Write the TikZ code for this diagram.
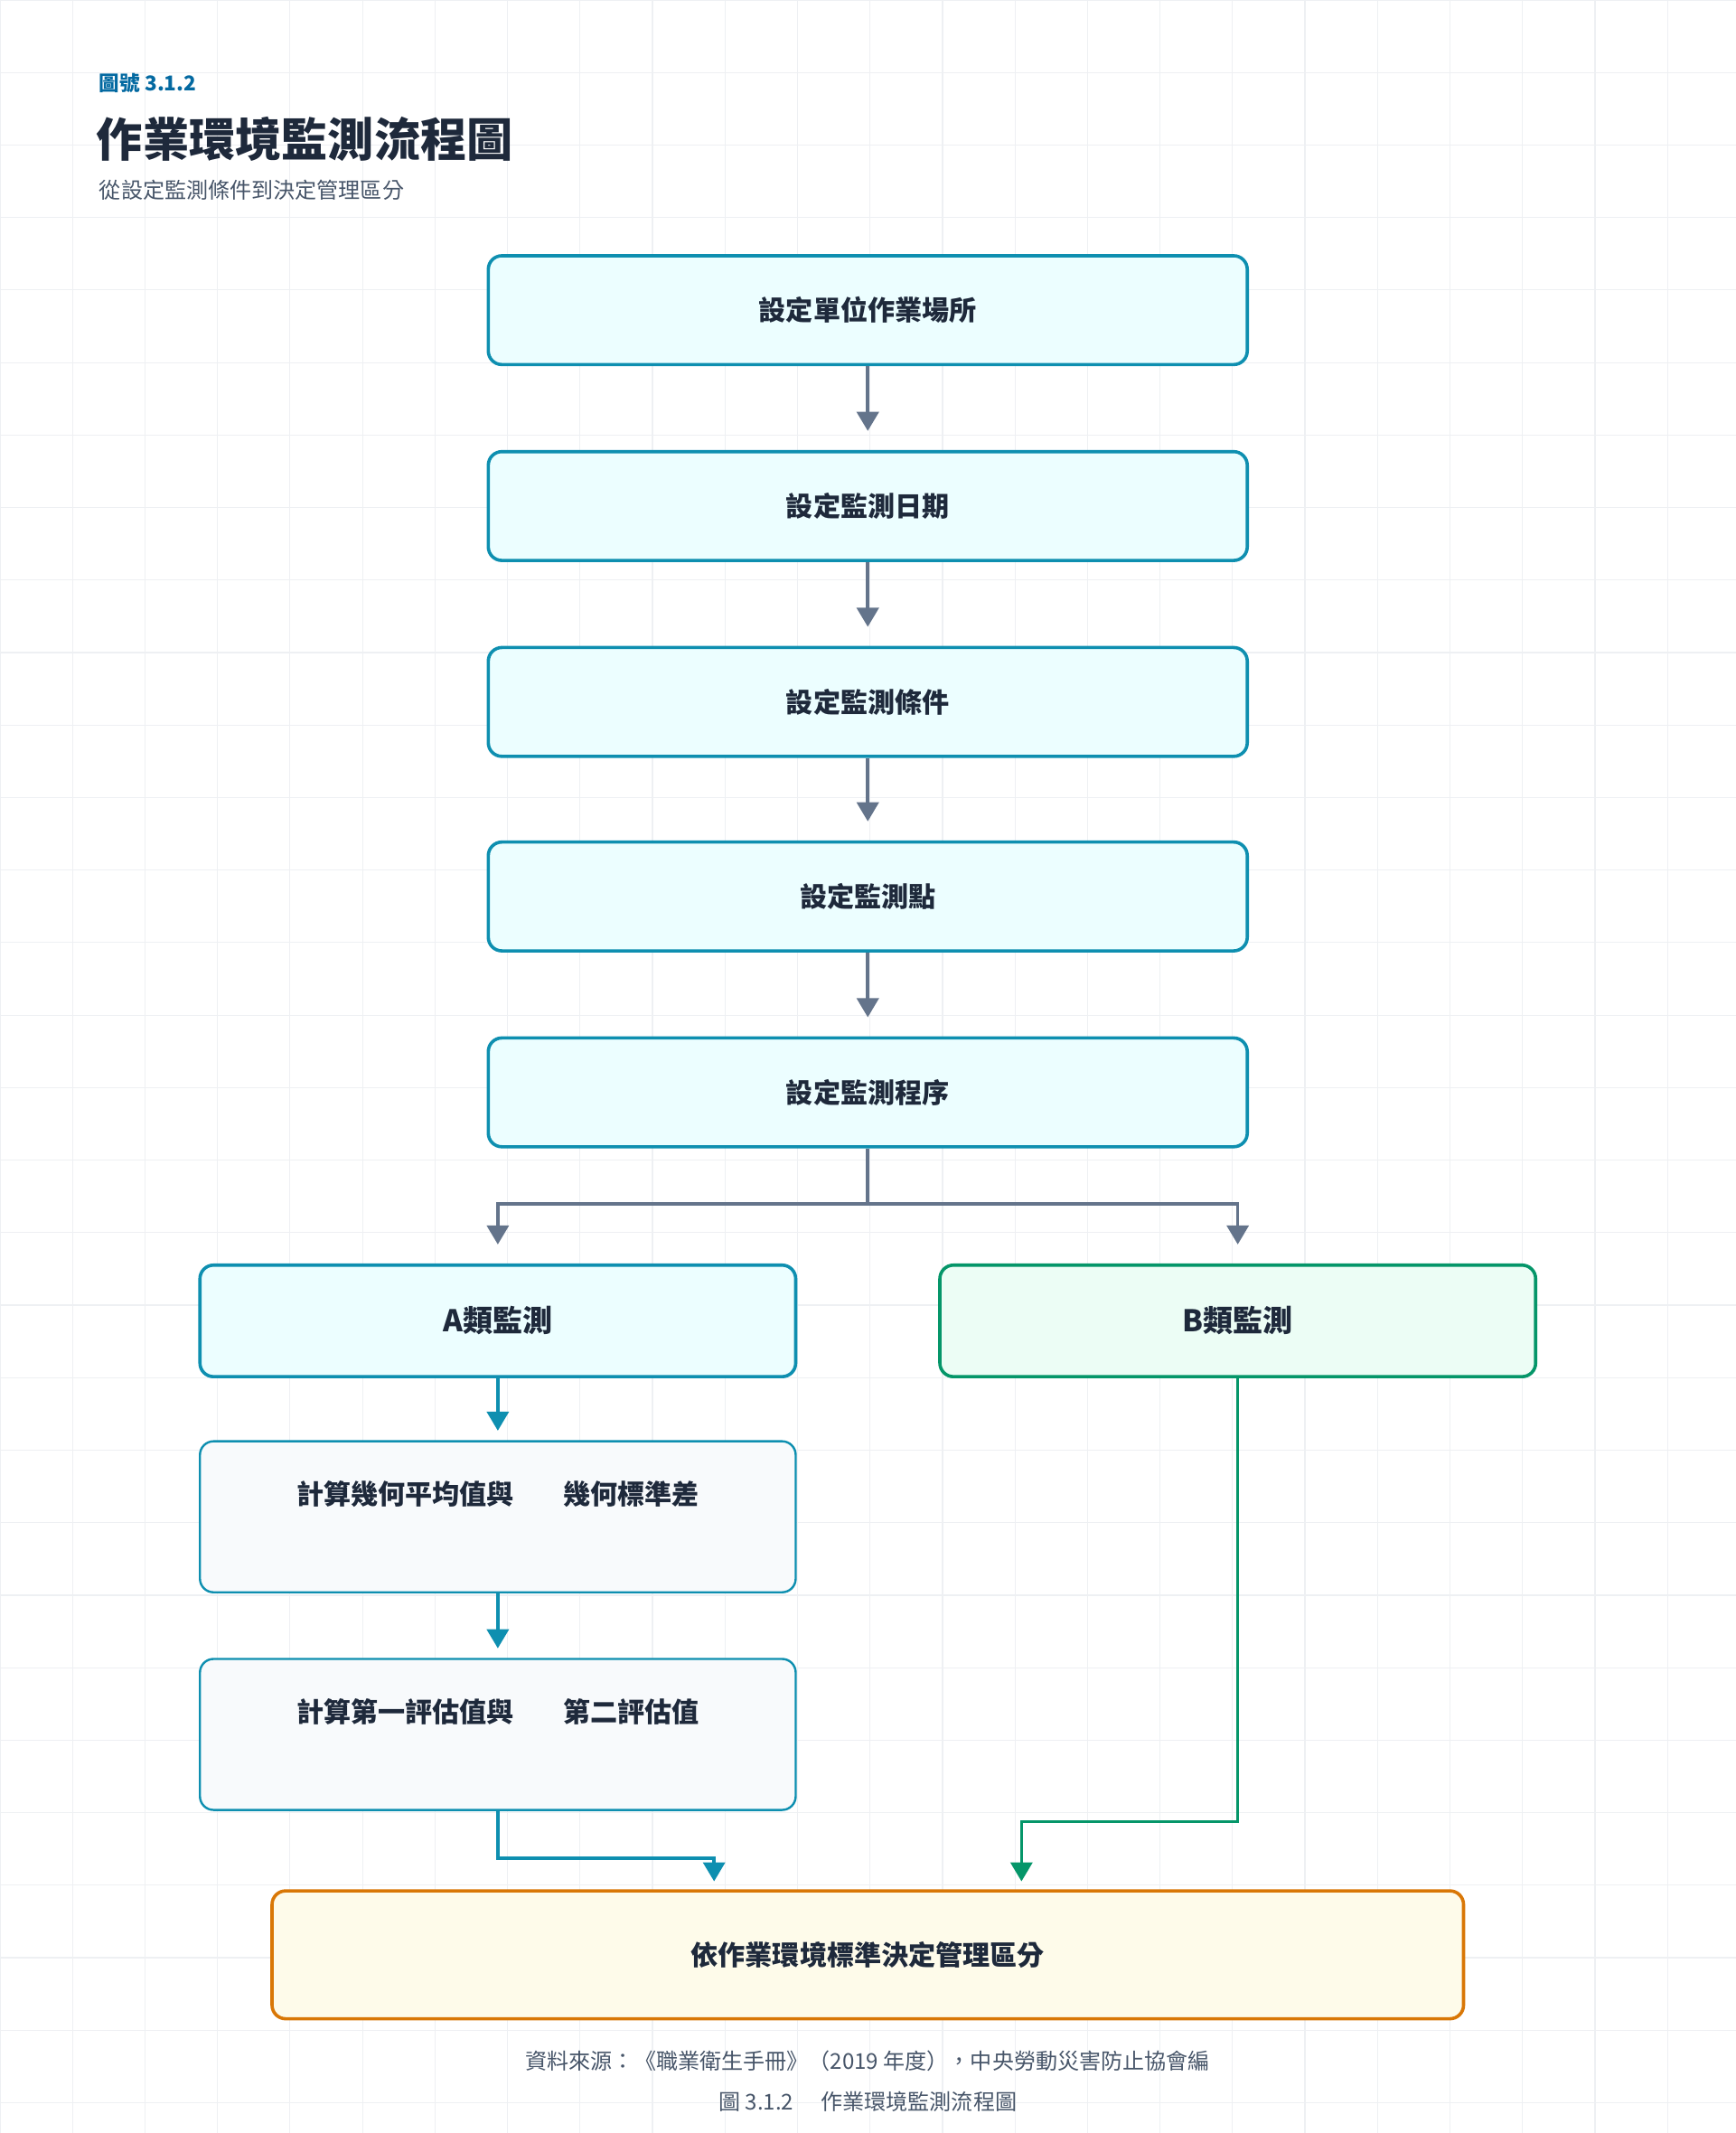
\documentclass[tikz,border=0pt]{standalone}
\usepackage{fontspec}
\setmainfont{Noto Sans CJK TC}
\usetikzlibrary{arrows.meta,positioning}
\definecolor{gridline}{HTML}{EEF0F3}
\definecolor{cyanline}{HTML}{0E8FB0}
\definecolor{cyanfill}{HTML}{ECFEFF}
\definecolor{greenline}{HTML}{059669}
\definecolor{greenfill}{HTML}{ECFDF5}
\definecolor{orangeline}{HTML}{D97706}
\definecolor{orangefill}{HTML}{FEFBEA}
\definecolor{slatefill}{HTML}{F8FAFC}
\definecolor{grayline}{HTML}{64748B}
\definecolor{inktext}{HTML}{1E293B}
\definecolor{softtext}{HTML}{475569}
\definecolor{tagblue}{HTML}{0369A1}
\tikzset{
  stepbox/.style={draw=cyanline,fill=cyanfill,line width=1.2pt,rounded corners=5pt,
    minimum width=279pt,minimum height=40pt,font=\bfseries\fontsize{10}{12}\selectfont,text=inktext},
  branchbox/.style={stepbox,minimum width=219pt,minimum height=41pt,font=\bfseries\fontsize{11}{13}\selectfont},
  calcbox/.style={draw=cyanline,fill=slatefill,line width=0.8pt,rounded corners=5pt,
    minimum width=219pt,minimum height=55.5pt},
  flow/.style={-{Triangle[length=7pt,width=8pt]},line width=1.2pt,color=grayline},
}
\begin{document}
\begin{tikzpicture}[x=0.5pt,y=-0.5pt]
\useasboundingbox (0,0) rectangle (1276,1568);
\fill[white] (0,0) rectangle (1276,1568);
\foreach \g in {0,53.3,...,1276} \draw[gridline,line width=0.4pt] (\g,0) -- (\g,1568);
\foreach \g in {0,53.3,...,1568} \draw[gridline,line width=0.4pt] (0,\g) -- (1276,\g);

% header
\node[anchor=west,text=tagblue,font=\bfseries\fontsize{7.5}{9}\selectfont] (tag) at (66,61) {圖號 3.1.2};
\node[anchor=west,text=inktext,font=\bfseries\fontsize{17}{20}\selectfont] (title) at (64,102) {作業環境監測流程圖};
\node[anchor=west,text=softtext,font=\fontsize{8}{10}\selectfont] (subtitle) at (66,140) {從設定監測條件到決定管理區分};

% main steps
\node[stepbox] (s1) at (638,228) {設定單位作業場所};
\node[stepbox] (s2) at (638,372) {設定監測日期};
\node[stepbox] (s3) at (638,516) {設定監測條件};
\node[stepbox] (s4) at (638,659) {設定監測點};
\node[stepbox] (s5) at (638,803) {設定監測程序};
\foreach \a/\b in {s1/s2,s2/s3,s3/s4,s4/s5}
  \draw[flow] (\a.south) -- ([yshift=7pt]\b.north);

% branches
\node[branchbox] (ta) at (366,971) {A類監測};
\node[branchbox,draw=greenline,fill=greenfill] (tb) at (910,971) {B類監測};
\coordinate (split) at (638,885);
\draw[flow] (s5.south) -- (split) -| ([yshift=7pt]ta.north);
\draw[flow] (split) -| ([yshift=7pt]tb.north);

% A path
\node[calcbox] (c1) at (366,1115) {};
\node[text=inktext,font=\bfseries\fontsize{10}{12}\selectfont] at (366,1098) {計算幾何平均值與\hspace{18pt}幾何標準差};
\node[calcbox] (c2) at (366,1275) {};
\node[text=inktext,font=\bfseries\fontsize{10}{12}\selectfont] at (366,1258) {計算第一評估值與\hspace{18pt}第二評估值};
\draw[flow,color=cyanline] (ta.south) -- ([yshift=3.5pt]c1.north);
\draw[flow,color=cyanline] (c1.south) -- ([yshift=3.5pt]c2.north);

% final
\node[stepbox,draw=orangeline,fill=orangefill,minimum width=438pt,minimum height=47pt] (fin) at (638,1437) {依作業環境標準決定管理區分};
\coordinate (aend) at (525,1390);
\coordinate (bend) at (751,1390);
\draw[flow,color=cyanline] (c2.south) -- (366,1366) -| ([yshift=3.5pt]aend);
\draw[flow,color=greenline] (tb.south) -- (910,1339) -| ([yshift=3.5pt]bend);

% footer
\node[text=softtext,font=\fontsize{8}{10}\selectfont] (src) at (638,1515) {資料來源：《職業衛生手冊》（2019 年度），中央勞動災害防止協會編};
\node[text=softtext,font=\fontsize{8}{10}\selectfont] (cap) at (638,1545) {圖 3.1.2\hspace{10pt}作業環境監測流程圖};
\end{tikzpicture}
\end{document}
